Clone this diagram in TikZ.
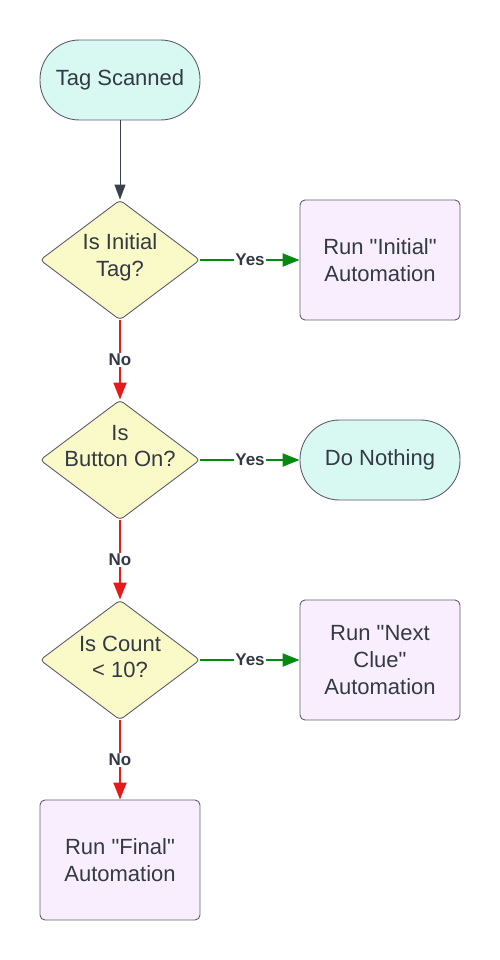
\documentclass[tikz,border=0pt]{standalone}
\usepackage{fontspec}
\newfontfamily\mainf{Liberation Sans}
\usetikzlibrary{shapes.geometric,arrows.meta}
\definecolor{txt}{HTML}{333A45}
\definecolor{edge}{HTML}{5E5E6E}
\definecolor{termfill}{HTML}{D8F8F2}
\definecolor{decfill}{HTML}{FAFAC8}
\definecolor{procfill}{HTML}{F9EEFD}
\definecolor{darkln}{HTML}{3A414A}
\definecolor{yesc}{HTML}{05890F}
\definecolor{noc}{HTML}{E51B1B}
\tikzset{
  base/.style={draw=edge, line width=0.9pt, text=txt, align=center, font=\mainf\fontsize{22}{26.7}\selectfont, inner sep=0pt},
  term/.style={base, fill=termfill, rectangle, rounded corners=39.5pt, minimum width=160pt, minimum height=80pt},
  proc/.style={base, fill=procfill, rectangle, rounded corners=5pt, minimum width=160pt, minimum height=120pt},
  dec/.style={base, fill=decfill, diamond, rounded corners=4pt, minimum width=160pt, minimum height=120pt, aspect=1.333},
  dtext/.style={text=txt, align=center, font=\mainf\fontsize{22}{26.7}\selectfont, inner sep=0pt},
  flow/.style={draw=darkln, line width=1pt, -{Triangle[length=15pt,width=11pt]}},
  yesln/.style={draw=yesc, line width=2pt, -{Triangle[length=17pt,width=13pt]}},
  noln/.style={draw=noc, line width=2pt, -{Triangle[length=17pt,width=13pt]}},
  lbl/.style={fill=white, text=txt, font=\mainf\fontsize{17}{17}\bfseries\selectfont, inner sep=1pt}
}
\begin{document}
\begin{tikzpicture}[x=1pt,y=-1pt]
\useasboundingbox (0,0) rectangle (500,960);
\node[term] (start) at (120,80) {Tag Scanned};
\node[dec, label={[dtext, yshift=3pt]center:{Is Initial\\Tag?}}] (d1) at (120,260) {};
\node[proc] (p1) at (380,260) {Run "Initial"\\Automation};
\node[dec, label={[dtext, yshift=14pt]center:{Is\\Button On?}}] (d2) at (120,460) {};
\node[term] (nothing) at (380,460) {Do Nothing};
\node[dec, label={[dtext, yshift=3pt]center:{Is Count\\< 10?}}] (d3) at (120,660) {};
\node[proc] (p3) at (380,660) {Run "Next\\Clue"\\Automation};
\node[proc] (p4) at (120,860) {Run "Final"\\Automation};
\draw[flow] (start) -- (d1);
\draw[yesln] (d1) -- node[lbl] {Yes} (p1);
\draw[noln] (d1) -- node[lbl] {No} (d2);
\draw[yesln] (d2) -- node[lbl] {Yes} (nothing);
\draw[noln] (d2) -- node[lbl] {No} (d3);
\draw[yesln] (d3) -- node[lbl] {Yes} (p3);
\draw[noln] (d3) -- node[lbl] {No} (p4);
\end{tikzpicture}
\end{document}
